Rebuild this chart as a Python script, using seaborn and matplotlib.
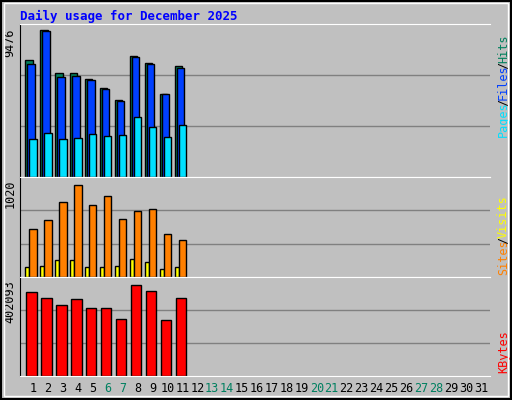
import numpy as np
import pandas as pd
import matplotlib
matplotlib.use("Agg")
import matplotlib.pyplot as plt
import seaborn as sns
from matplotlib.patches import Rectangle

days = np.arange(1, 12)
hits = [7523, 9476, 6704, 6704, 6296, 5716, 4943, 7778, 7349, 5329, 7134]
files = [7262, 9390, 6424, 6488, 6231, 5651, 4878, 7713, 7262, 5329, 7005]
pages = [2428, 2815, 2428, 2493, 2750, 2621, 2686, 3846, 3202, 2557, 3330]
sites = [534, 634, 832, 1020, 799, 899, 645, 733, 755, 479, 413]
visits = [115, 126, 192, 192, 115, 115, 126, 203, 170, 93, 115]
kbytes = [371163, 344651, 313722, 340233, 300466, 300466, 251862, 402093, 375582, 247443, 344651]
all_days = list(range(1, 32))
weekend = [6, 7, 13, 14, 20, 21, 27, 28]

BG = "#c0c0c0"
sns.set_style("white")
plt.rcParams["font.family"] = ["DejaVu Sans Mono"]
fig = plt.figure(figsize=(5.12, 4.0), dpi=100, facecolor=BG)
fig.patches.append(Rectangle((0.002, 0.002), 0.996, 0.996, transform=fig.transFigure,
                             fill=False, edgecolor="black", lw=1.5))
fig.patches.append(Rectangle((0.008, 0.01), 0.985, 0.982, transform=fig.transFigure,
                             fill=False, edgecolor="white", lw=1))

L, W = 20/512, 470/512
ax1 = fig.add_axes([L, 1-177/400, W, 153/400])
ax2 = fig.add_axes([L, 1-277/400, W, 100/400])
ax3 = fig.add_axes([L, 1-376/400, W, 99/400])

def bars(ax, off, vals, width, color):
    d = pd.DataFrame({"x": days + off, "y": vals})
    sns.barplot(data=d, x="x", y="y", native_scale=True, width=width, color=color,
                edgecolor="black", linewidth=1, saturation=1, ax=ax)

for ax, ymax in [(ax1, 9476*153/147), (ax2, 1020*100/92.4), (ax3, 402093*99/91)]:
    ax.set_facecolor(BG)
    ax.set_xlim(0.13, 31.6)
    ax.set_ylim(0, ymax)
    for g in (ymax/3, 2*ymax/3):
        ax.axhline(g, color="#808080", lw=1, zorder=0)
    for s in ax.spines.values():
        s.set_visible(False)
    ax.spines["left"].set_visible(True); ax.spines["left"].set_color("black")
    ax.spines["bottom"].set_visible(True); ax.spines["bottom"].set_color("white")
    ax.spines["top"].set_visible(True); ax.spines["top"].set_color("white")

bars(ax1, -0.27, hits, 0.5, "#00805c")
bars(ax1, -0.13, files, 0.5, "#0040ff")
bars(ax1, 0.0, pages, 0.5, "#00e0ff")
bars(ax2, -0.38, visits, 0.27, "#ffff00")
bars(ax2, 0.0, sites, 0.5, "#ff8000")
bars(ax3, -0.1, kbytes, 0.7, "#ff0000")
for ax in (ax1, ax2, ax3):
    ax.set_xlabel(""); ax.set_ylabel(""); ax.set_xticks([]); ax.set_yticks([])
    ax.set_xlim(0.13, 31.6)

ax3.set_xticks(all_days)
ax3.set_xticklabels([str(d) for d in all_days], fontsize=8.5)
ax3.tick_params(axis="x", length=0, pad=4)
for t, d in zip(ax3.get_xticklabels(), all_days):
    t.set_color("#008060" if d in weekend else "black")

for ax, lab in [(ax1, "9476"), (ax2, "1020"), (ax3, "402093")]:
    ax.text(-0.008, 0.97, lab, transform=ax.transAxes, rotation=90, ha="right", va="top",
            fontsize=8.5, color="black")

fig.text(20/512, 1-16/400, "Daily usage for December 2025", color="#0000ff",
         fontsize=9, fontweight="bold", va="center", ha="left")

def side(ax, start, parts):
    y = start
    h = ax.get_position().height * 400
    for txt, col in parts:
        ax.text(1.015, y, txt, transform=ax.transAxes, rotation=90, ha="left",
                va="bottom", fontsize=8.5, color=col)
        y += len(txt) * 6.2 / h
side(ax1, 0.26, [("Pages", "#00e0ff"), ("/", "black"), ("Files", "#0040ff"), ("/", "black"), ("Hits", "#00805c")])
side(ax2, 0.02, [("Sites", "#ff8000"), ("/", "black"), ("Visits", "#ffff00")])
side(ax3, 0.03, [("KBytes", "#ff0000")])

fig.savefig("out.png", dpi=100, facecolor=BG)
